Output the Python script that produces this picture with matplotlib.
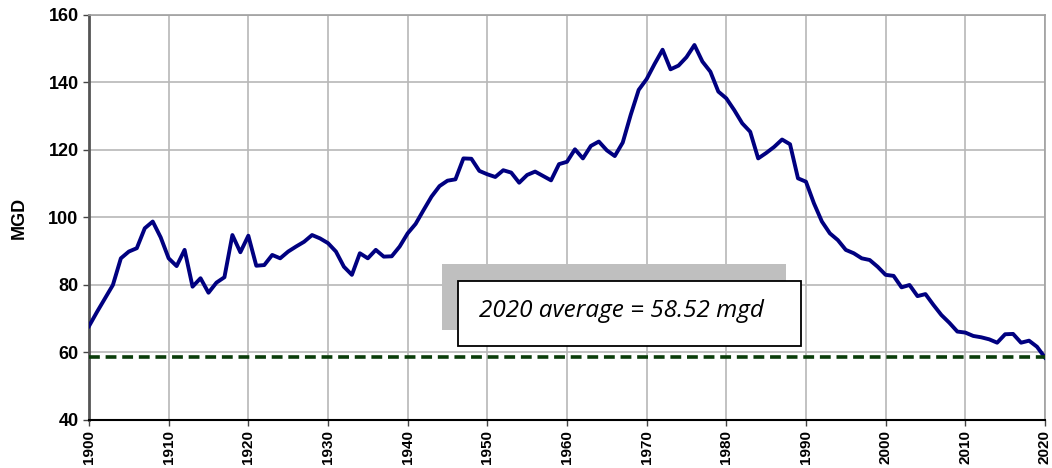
"""Annual average water use (MGD), 1900-2020, with the 2020 average marked."""

import matplotlib.pyplot as plt
from matplotlib.patches import Rectangle

years = list(range(1900, 2021))
mgd = [
    67.8, 72.0, 76.0, 80.0, 87.9, 89.9, 90.9, 96.8, 98.8, 94.1,
    87.9, 85.6, 90.4, 79.5, 82.0, 77.7, 80.7, 82.3, 94.8, 89.7,
    94.6, 85.7, 85.9, 88.9, 87.9, 89.9, 91.4, 92.8, 94.8, 93.8,
    92.4, 89.9, 85.4, 83.0, 89.4, 87.9, 90.4, 88.4, 88.5, 91.4,
    95.3, 98.1, 102.2, 106.2, 109.3, 110.9, 111.3, 117.5, 117.4, 113.8,
    112.8, 112.0, 114.0, 113.3, 110.3, 112.6, 113.6, 112.3, 111.0, 115.8,
    116.5, 120.2, 117.5, 121.2, 122.5, 119.9, 118.2, 122.2, 130.4, 137.8,
    141.0, 145.5, 149.7, 143.9, 145.0, 147.5, 151.1, 146.2, 143.2, 137.3,
    135.3, 131.8, 127.9, 125.4, 117.5, 119.1, 120.9, 123.1, 121.7, 111.6,
    110.6, 104.2, 98.8, 95.3, 93.3, 90.4, 89.4, 87.9, 87.4, 85.4,
    83.0, 82.7, 79.3, 80.0, 76.7, 77.3, 74.1, 71.1, 68.8, 66.2,
    65.9, 64.9, 64.5, 63.9, 62.9, 65.4, 65.5, 62.9, 63.5, 61.7,
    58.5,
]
avg_2020 = 58.52
label = f"2020 average = {avg_2020:.2f} mgd"

fig = plt.figure(figsize=(10.52, 4.68), dpi=100)
ax = fig.add_axes([0.0846, 0.1026, 0.9087, 0.8654])

ax.plot(years, mgd, color="#000080", linewidth=2.8, zorder=3)
ax.axhline(avg_2020, color="#0a3d0a", linewidth=2.6, linestyle=(0, (3, 1.6)), zorder=3)

ax.set_xlim(1900, 2020)
ax.set_ylim(40, 160)
ax.set_xticks(range(1900, 2021, 10))
ax.set_yticks(range(40, 161, 20))
ax.grid(True, color="#b8b8b8", linewidth=1.2)
ax.set_axisbelow(True)

for lab in ax.get_xticklabels():
    lab.set_rotation(90)
    lab.set_fontweight("bold")
    lab.set_fontfamily("Liberation Sans")
    lab.set_fontsize(11)
for lab in ax.get_yticklabels():
    lab.set_fontweight("bold")
    lab.set_fontfamily("Liberation Sans")
    lab.set_fontsize(13)
ax.set_ylabel("MGD", fontweight="bold", fontfamily="Liberation Sans", fontsize=13)
ax.yaxis.set_label_coords(-0.064, 0.5)
ax.tick_params(direction="out", length=4, width=1, color="#444444")

for side in ("top", "right"):
    ax.spines[side].set_color("#a0a0a0")
    ax.spines[side].set_linewidth(1.2)
ax.spines["left"].set_color("#555555")
ax.spines["left"].set_linewidth(2)
ax.spines["bottom"].set_color("black")
ax.spines["bottom"].set_linewidth(1.5)

# shadowed text box
ax.add_patch(Rectangle((0.369, 0.222), 0.360, 0.163, transform=ax.transAxes,
                       facecolor="#bfbfbf", edgecolor="none", zorder=4))
ax.add_patch(Rectangle((0.386, 0.183), 0.359, 0.160, transform=ax.transAxes,
                       facecolor="white", edgecolor="black", linewidth=1.3, zorder=5))
ax.text(0.408, 0.268, label, transform=ax.transAxes, fontsize=17.5,
        fontstyle="italic", fontfamily="Open Sans", va="center", ha="left", zorder=6)

fig.savefig("out.png", dpi=100)
